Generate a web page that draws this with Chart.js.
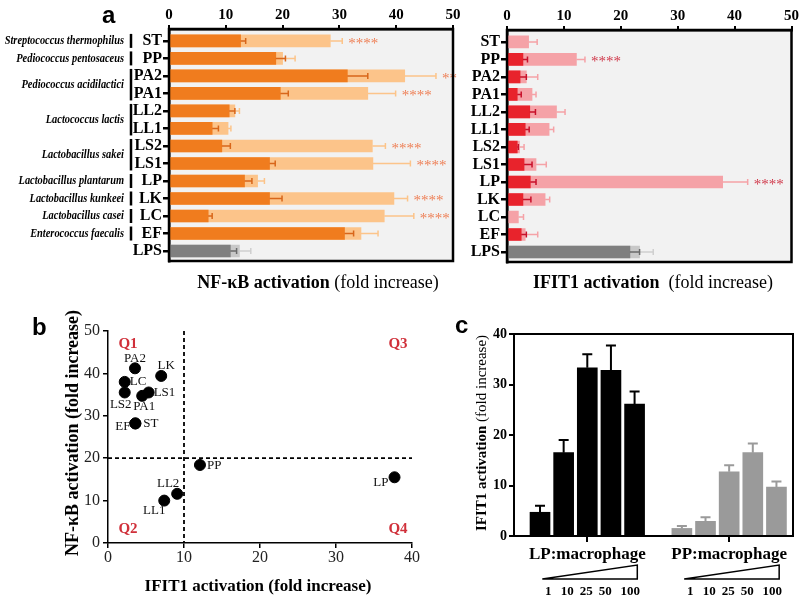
<!DOCTYPE html>
<html>
<head>
<meta charset="utf-8">
<script src="https://cdn.jsdelivr.net/npm/chart.js@4"></script>
<style>
  body{margin:0;background:#fff;}
  #wrap{position:relative;width:800px;height:598px;overflow:hidden;background:#fff;}
  canvas{position:absolute;}
  .t{position:absolute;font-family:'Liberation Serif',serif;color:#000;white-space:nowrap;line-height:24px;}
  .lbl{position:absolute;font-family:'Liberation Sans',Arial,sans-serif;font-weight:bold;font-size:24px;color:#000;}
</style>
</head>
<body>
<div id="wrap">
  <canvas id="aL" width="465" height="275" style="left:0;top:0"></canvas>
  <canvas id="aR" width="340" height="275" style="left:460px;top:0"></canvas>
  <canvas id="bS" width="400" height="280" style="left:20px;top:318px"></canvas>
  <canvas id="cB" width="370" height="280" style="left:430px;top:318px"></canvas>

  <div class="lbl" style="left:102px;top:1px">a</div>
  <div class="lbl" style="left:32px;top:313px">b</div>
  <div class="lbl" style="left:455px;top:311px">c</div>

  <div class="t" style="left:168px;top:270px;width:300px;text-align:center;font-size:18px"><b>NF-κB activation</b> (fold increase)</div>
  <div class="t" style="left:503px;top:270px;width:300px;text-align:center;font-size:18px"><b>IFIT1 activation</b>&nbsp; (fold increase)</div>
  <div class="t" style="left:-78px;top:421px;width:300px;text-align:center;font-size:18px;font-weight:bold;transform:rotate(-90deg)">NF-κB activation (fold increase)</div>
  <div class="t" style="left:108px;top:574px;width:300px;text-align:center;font-size:17px;font-weight:bold">IFIT1 activation (fold increase)</div>
  <div class="t" style="left:351px;top:421px;width:260px;text-align:center;font-size:15px;transform:rotate(-90deg)"><b>IFIT1 activation</b> (fold increase)</div>
</div>

<script>
const SERIF = "'Liberation Serif', 'Times New Roman', serif";

// ---------- panel a data ----------
const strains = ['ST','PP','PA2','PA1','LL2','LL1','LS2','LS1','LP','LK','LC','EF','LPS'];
const speciesNames = ['Streptococcus thermophilus','Pediococcus pentosaceus','Pediococcus acidilactici',
  'Lactococcus lactis','Lactobacillus sakei','Lactobacillus plantarum','Lactobacillus kunkeei',
  'Lactobacillus casei','Enterococcus faecalis'];
const speciesStrains = [['ST'],['PP'],['PA2','PA1'],['LL2','LL1'],['LS2','LS1'],['LP'],['LK'],['LC'],['EF']];

const nfkbDark     = [12.6, 18.8, 31.4, 19.6, 10.6, 7.6, 9.3, 17.7, 13.3, 17.7, 6.9, 30.9, 10.8];
const nfkbDarkErr  = [0.9, 1.7, 3.6, 1.4, 1.0, 1.1, 1.5, 1.0, 1.3, 2.2, 0.7, 1.6, 1.1];
const nfkbLight    = [28.4, 20.0, 41.5, 35.0, 11.6, 10.4, 35.8, 35.9, 15.6, 39.6, 37.9, 33.8, 12.4];
const nfkbLightErr = [2.1, 2.2, 5.5, 4.9, 0.8, 0.5, 2.3, 6.6, 1.2, 2.4, 5.2, 3.0, 2.0];
const nfkbStars    = ['****','','**','****','','','****','****','','****','****','',''];

const ifitDark     = [null, 2.8, 2.3, 1.8, 4.0, 3.2, 1.8, 3.0, 4.1, 2.8, null, 2.5, 21.6];
const ifitDarkErr  = [null, 0.8, 1.1, 0.7, 1.0, 0.7, 0.2, 1.4, 1.0, 1.4, null, 0.9, 1.7];
const ifitLight    = [3.8, 12.2, 3.4, 4.4, 8.7, 7.4, 2.2, 5.1, 37.9, 6.7, 2.0, 3.2, 23.3];
const ifitLightErr = [1.5, 1.5, 2.0, 0.7, 1.5, 0.8, 0.8, 1.8, 4.4, 0.8, 0.9, 2.2, 2.4];
const ifitStars    = ['','****','','','','','','','****','','','',''];

// ---------- panel b data ----------
const scatterNames = ['PA2','LC','LS2','PA1','LS1','LK','EF','ST','PP','LL2','LL1','LP'];
const scatterIfit  = [3.55, 2.2, 2.2, 4.5, 5.35, 7.0, 3.6, 3.6, 12.1, 9.1, 7.4, 37.7];
const scatterNfkb  = [41.2, 38.0, 35.5, 34.7, 35.5, 39.4, 28.2, 28.2, 18.4, 11.6, 10.0, 15.5];
const quadrants = ['Q1','Q2','Q3','Q4'];
const ifitCut = 10, nfkbCut = 20;

// ---------- panel c data ----------
const ratios = ['1','10','25','50','100'];
const groups = ['LP:macrophage','PP:macrophage'];
const lpIfit = [4.7, 16.5, 33.3, 32.8, 26.1];
const lpErr  = [1.3, 2.5, 2.7, 4.9, 2.5];
const ppIfit = [1.5, 2.9, 12.7, 16.5, 9.7];
const ppErr  = [0.5, 0.8, 1.3, 1.8, 1.1];

// label offsets for scatter points: [dx, dy, align]
const labelPos = {PA2:[0,-10,'center'], LC:[5,0,'left'], LS2:[-4,12,'center'], PA1:[2,11,'center'],
  LS1:[5,0,'left'], LK:[5,-10,'center'], EF:[-5,3,'right'], ST:[8,0,'left'], PP:[7,1,'left'],
  LL2:[-9,-10,'center'], LL1:[-10,10,'center'], LP:[-6,5,'right']};

// --------- helpers ---------
function errLine(ctx, x0, x1, y, cap, color){
  ctx.strokeStyle = color; ctx.lineWidth = 1.5;
  ctx.beginPath(); ctx.moveTo(x0,y); ctx.lineTo(x1,y);
  ctx.moveTo(x1,y-cap); ctx.lineTo(x1,y+cap); ctx.stroke();
}

function barPanel(id, opts){
  const isLPS = s => s==='LPS';
  const panelPlugin = {
    id:'panel'+id,
    beforeDraw(chart){
      const {ctx, chartArea:a} = chart;
      ctx.save(); ctx.fillStyle='#f2f2f2'; ctx.fillRect(a.left,a.top,a.right-a.left,a.bottom-a.top); ctx.restore();
    },
    afterDatasetsDraw(chart){
      const {ctx, scales:{x,y}} = chart;
      ctx.save();
      strains.forEach((s,i)=>{
        const py = y.getPixelForValue(i);
        if(opts.light[i]!=null){
          errLine(ctx, x.getPixelForValue(opts.light[i]), x.getPixelForValue(opts.light[i]+opts.lightErr[i]), py, 3,
            isLPS(s)?'#cfcfcf':opts.lightColor);
        }
        if(opts.dark[i]!=null){
          errLine(ctx, x.getPixelForValue(opts.dark[i]), x.getPixelForValue(opts.dark[i]+opts.darkErr[i]), py, 3,
            isLPS(s)?'#6a6a6a':opts.errColor);
        }
        if(opts.stars[i]){
          ctx.fillStyle = opts.starColor; ctx.font = '15px '+SERIF;
          ctx.textAlign='left'; ctx.textBaseline='middle';
          ctx.fillText(opts.stars[i], x.getPixelForValue(opts.light[i]+opts.lightErr[i])+6, py+3);
        }
      });
      ctx.restore();
    },
    afterDraw(chart){
      const {ctx, chartArea:a, scales:{y}} = chart;
      ctx.save(); ctx.strokeStyle='#000'; ctx.lineWidth=2.5;
      ctx.strokeRect(a.left,a.top,a.right-a.left,a.bottom-a.top);
      if(opts.species){
        speciesNames.forEach((name,k)=>{
          const rows = speciesStrains[k].map(s=>strains.indexOf(s));
          const y0 = y.getPixelForValue(rows[0]), y1 = y.getPixelForValue(rows[rows.length-1]);
          ctx.lineWidth=2.5; ctx.beginPath(); ctx.moveTo(131,y0-7); ctx.lineTo(131,y1+7); ctx.stroke();
          ctx.save();
          ctx.translate(124,(y0+y1)/2); ctx.scale(0.8,1);
          ctx.fillStyle='#000'; ctx.font='italic bold 13px '+SERIF;
          ctx.textAlign='right'; ctx.textBaseline='middle';
          ctx.fillText(name, 0, 0);
          ctx.restore();
        });
      }
      ctx.restore();
    }
  };
  const pts = vals => vals.map((v,i)=>({x:v, y:i}));
  return new Chart(document.getElementById(id), {
    type:'bar',
    data:{datasets:[
      {data:pts(opts.dark), backgroundColor:strains.map(s=>isLPS(s)?'#7f7f7f':opts.darkColor), order:0, grouped:false, barThickness:12},
      {data:pts(opts.light), backgroundColor:strains.map(s=>isLPS(s)?'#c8c8c8':opts.lightColor), order:1, grouped:false, barThickness:12}
    ]},
    options:{
      indexAxis:'y', responsive:false, animation:false,
      layout:{padding:{right:opts.padRight, bottom:275-opts.bottom}},
      plugins:{legend:{display:false}, tooltip:{enabled:false}},
      scales:{
        x:{type:'linear', position:'top', min:0, max:50,
           ticks:{stepSize:10, color:'#000', padding:1, font:{family:SERIF, size:15, weight:'bold'}},
           grid:{drawOnChartArea:false, tickLength:4, color:'#000', lineWidth:2},
           border:{color:'#000', width:2.5},
           afterFit:s=>{s.height=opts.top;}},
        y:{type:'linear', reverse:true, min:-0.68, max:12.57, offset:false,
           afterBuildTicks:s=>{s.ticks = strains.map((n,i)=>({value:i}));},
           ticks:{autoSkip:false, color:'#000', padding:1, font:{family:SERIF, size:16, weight:'bold'},
                  callback:(v,i)=>strains[i]},
           grid:{drawOnChartArea:false, offset:false, tickLength:6, color:'#000', lineWidth:2.5},
           border:{color:'#000', width:2.5},
           afterFit:s=>{s.width=opts.left;}}
      }
    },
    plugins:[panelPlugin]
  });
}

barPanel('aL', {dark:nfkbDark, darkErr:nfkbDarkErr, light:nfkbLight, lightErr:nfkbLightErr, stars:nfkbStars,
  darkColor:'#f07c1e', lightColor:'#fcc48a', errColor:'#d8661a', starColor:'#ee7f55',
  left:169, top:29, bottom:261, padRight:12, species:true});
barPanel('aR', {dark:ifitDark, darkErr:ifitDarkErr, light:ifitLight, lightErr:ifitLightErr, stars:ifitStars,
  darkColor:'#e8232c', lightColor:'#f5a2a7', errColor:'#c8102a', starColor:'#d0384a',
  left:47, top:30, bottom:262, padRight:8, species:false});

// --------- panel b: scatter ---------
const scatterPlugin = {
  id:'quad',
  afterDatasetsDraw(chart){
    const {ctx, chartArea:a, scales:{x,y}} = chart;
    ctx.save();
    ctx.strokeStyle='#000'; ctx.lineWidth=1.8; ctx.setLineDash([4,3]);
    const xc = x.getPixelForValue(ifitCut), yc = y.getPixelForValue(nfkbCut);
    ctx.beginPath(); ctx.moveTo(xc,a.top); ctx.lineTo(xc,a.bottom);
    ctx.moveTo(a.left,yc); ctx.lineTo(a.right,yc); ctx.stroke();
    ctx.setLineDash([]);
    ctx.fillStyle='#d0303a'; ctx.font='bold 15px '+SERIF; ctx.textBaseline='middle';
    ctx.textAlign='center';
    ctx.fillText(quadrants[0], a.left+20, a.top+13);
    ctx.fillText(quadrants[1], a.left+20, a.bottom-14);
    ctx.fillText(quadrants[2], a.right-14, a.top+13);
    ctx.fillText(quadrants[3], a.right-14, a.bottom-14);
    ctx.fillStyle='#111'; ctx.font='13px '+SERIF;
    scatterNames.forEach((n,i)=>{
      const p = labelPos[n];
      ctx.textAlign = p[2];
      ctx.fillText(n, x.getPixelForValue(scatterIfit[i])+p[0], y.getPixelForValue(scatterNfkb[i])+p[1]);
    });
    ctx.restore();
  }
};
new Chart(document.getElementById('bS'), {
  type:'scatter',
  data:{datasets:[{data:scatterNames.map((n,i)=>({x:scatterIfit[i], y:scatterNfkb[i]})),
    pointRadius:5.5, backgroundColor:'#000', borderColor:'#000'}]},
  options:{
    responsive:false, animation:false,
    layout:{padding:{top:13, right:8}},
    plugins:{legend:{display:false}, tooltip:{enabled:false}},
    scales:{
      x:{min:0, max:40, ticks:{stepSize:10, color:'#222', padding:0, font:{family:SERIF, size:16}},
         grid:{drawOnChartArea:false, tickLength:5, color:'#000', lineWidth:1.5},
         border:{color:'#000', width:1.5}, afterFit:s=>{s.height=55;}},
      y:{min:0, max:50, ticks:{stepSize:10, color:'#222', padding:3, font:{family:SERIF, size:16}},
         grid:{drawOnChartArea:false, tickLength:5, color:'#000', lineWidth:1.5},
         border:{color:'#000', width:1.5}, afterFit:s=>{s.width=88;}}
    }
  },
  plugins:[scatterPlugin]
});

// --------- panel c: dose bars ---------
const lpPos = lpIfit.map((v,i)=>i), ppPos = ppIfit.map((v,i)=>i+6);
const groupPos = [2, 8];
const dosePlugin = {
  id:'dose',
  afterDatasetsDraw(chart){
    const {ctx, scales:{x,y}} = chart;
    ctx.save(); ctx.lineWidth=2;
    [[lpPos,lpIfit,lpErr,'#000'],[ppPos,ppIfit,ppErr,'#9a9a9a']].forEach(([pos,vals,errs,col])=>{
      ctx.strokeStyle=col;
      vals.forEach((v,i)=>{
        const px=x.getPixelForValue(pos[i]), y0=y.getPixelForValue(v), y1=y.getPixelForValue(v+errs[i]);
        ctx.beginPath(); ctx.moveTo(px,y0); ctx.lineTo(px,y1); ctx.moveTo(px-5,y1); ctx.lineTo(px+5,y1); ctx.stroke();
      });
    });
    ctx.restore();
  },
  afterDraw(chart){
    const {ctx, chartArea:a, scales:{x}} = chart;
    ctx.save(); ctx.strokeStyle='#000'; ctx.lineWidth=2;
    ctx.strokeRect(a.left,a.top,a.right-a.left,a.bottom-a.top);
    groupPos.forEach(g=>{
      const gx = x.getPixelForValue(g), l = gx-45, r = gx+50;
      ctx.lineWidth=1.5;
      ctx.beginPath(); ctx.moveTo(l,a.bottom+43); ctx.lineTo(r,a.bottom+29); ctx.lineTo(r,a.bottom+43); ctx.closePath(); ctx.stroke();
      ctx.fillStyle='#000'; ctx.font='bold 13px '+SERIF; ctx.textAlign='center'; ctx.textBaseline='middle';
      [6,25,44,63,88].forEach((d,k)=>ctx.fillText(ratios[k], l+d, a.bottom+56));
    });
    ctx.restore();
  }
};
new Chart(document.getElementById('cB'), {
  type:'bar',
  data:{datasets:[
    {data:lpIfit.map((v,i)=>({x:lpPos[i], y:v})), backgroundColor:'#000', grouped:false, barThickness:20},
    {data:ppIfit.map((v,i)=>({x:ppPos[i], y:v})), backgroundColor:'#9a9a9a', grouped:false, barThickness:20}
  ]},
  options:{
    responsive:false, animation:false,
    layout:{padding:{top:16, right:7}},
    plugins:{legend:{display:false}, tooltip:{enabled:false}},
    scales:{
      x:{type:'linear', min:-1.1, max:10.7, offset:false,
         afterBuildTicks:s=>{s.ticks = groupPos.map(v=>({value:v}));},
         ticks:{color:'#000', padding:2, autoSkip:false, font:{family:SERIF, size:17, weight:'bold'},
                callback:(v,i)=>groups[i]},
         grid:{drawOnChartArea:false, offset:false, tickLength:6, color:'#000', lineWidth:2},
         border:{color:'#000', width:2}, afterFit:s=>{s.height=62;}},
      y:{min:0, max:40, ticks:{stepSize:10, color:'#000', padding:2, font:{family:SERIF, size:14, weight:'bold'}},
         grid:{drawOnChartArea:false, tickLength:5, color:'#000', lineWidth:2},
         border:{color:'#000', width:2}, afterFit:s=>{s.width=84;}}
    }
  },
  plugins:[dosePlugin]
});
</script>
</body>
</html>
